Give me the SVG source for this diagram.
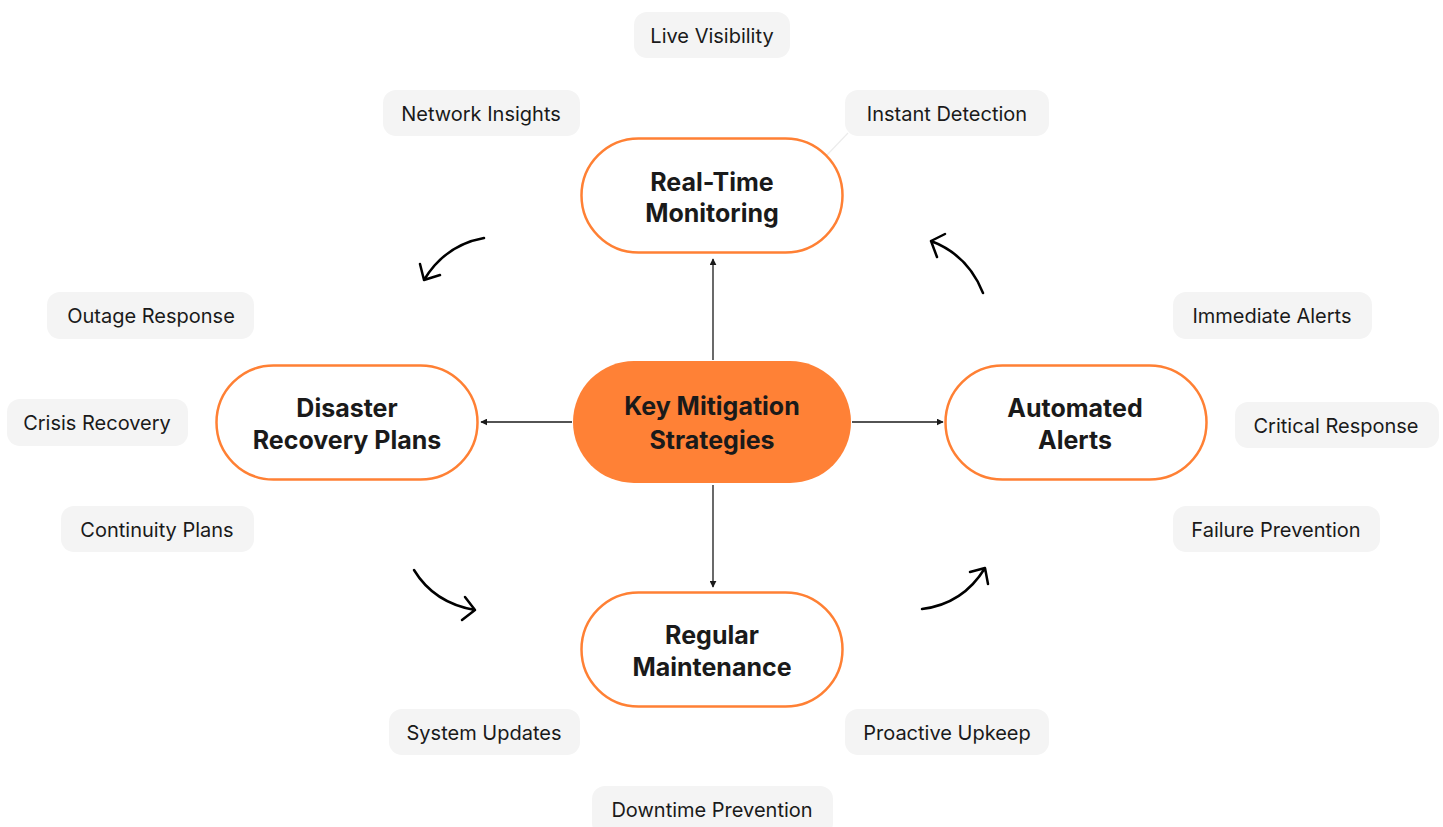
<svg xmlns="http://www.w3.org/2000/svg" width="1443" height="827" viewBox="0 0 1443 827">
<defs>
<marker id="ah" viewBox="0 0 10 10" refX="9" refY="5" markerWidth="7" markerHeight="7" orient="auto" markerUnits="userSpaceOnUse">
<path d="M0,0 L10,5 L0,10 z" fill="#1a1a1a"/>
</marker>
<style>
.tag rect{fill:#F4F4F4}
.tag text{font-family:Inter,"Noto Sans","Liberation Sans",sans-serif;font-size:20px;fill:#1a1a1a;text-anchor:middle;dominant-baseline:central}
.node rect{fill:#fff;stroke:#FF8034;stroke-width:2.5}
.node text,.center text{font-family:Inter,"Noto Sans","Liberation Sans",sans-serif;font-size:25px;font-weight:700;fill:#1a1a1a;text-anchor:middle;dominant-baseline:central}
.conn{stroke:#1a1a1a;stroke-width:1.3;fill:none}
.curve{stroke:#000;stroke-width:2.5;fill:none;stroke-linecap:round;stroke-linejoin:round}
</style>
</defs>
<rect width="1443" height="827" fill="#fff"/>
<line x1="848" y1="133" x2="827" y2="155" stroke="#ececec" stroke-width="1.2"/>
<g id="connectors">
<line class="conn" x1="713" y1="360" x2="713" y2="259" marker-end="url(#ah)"/>
<line class="conn" x1="572" y1="422" x2="481" y2="422" marker-end="url(#ah)"/>
<line class="conn" x1="852" y1="422" x2="943" y2="422" marker-end="url(#ah)"/>
<line class="conn" x1="713" y1="485" x2="713" y2="587" marker-end="url(#ah)"/>
<path class="curve" d="M484,238 Q445,245 424,280 M420,264 L424,280 L440,275"/>
<path class="curve" d="M983,293 Q968,255 931,241 M945,234 L931,241 L937,257"/>
<path class="curve" d="M414,570 Q434,603 475,610 M465,597 L475,610 L462,620"/>
<path class="curve" d="M922,609 Q963,604 985,568 M970,572 L985,568 L988,584"/>
</g>
<g id="center" class="center">
<rect x="573" y="361" width="278" height="122" rx="61" fill="#FF8136"/>
<text x="712" y="406">Key Mitigation</text>
<text x="712" y="440">Strategies</text>
</g>
<g id="realtime" class="node">
<rect x="581.5" y="138.5" width="261" height="114" rx="57"/>
<text x="712" y="182">Real-Time</text>
<text x="712" y="213">Monitoring</text>
</g>
<g id="disaster" class="node">
<rect x="216.5" y="365.5" width="261" height="114" rx="57"/>
<text x="347" y="408">Disaster</text>
<text x="347" y="440">Recovery Plans</text>
</g>
<g id="automated" class="node">
<rect x="945.5" y="365.5" width="261" height="114" rx="57"/>
<text x="1075" y="408">Automated</text>
<text x="1075" y="440">Alerts</text>
</g>
<g id="maintenance" class="node">
<rect x="581.5" y="592.5" width="261" height="114" rx="57"/>
<text x="712" y="635">Regular</text>
<text x="712" y="667">Maintenance</text>
</g>
<g id="tag-live" class="tag"><rect x="634" y="12" width="156" height="46" rx="13"/><text x="712" y="36">Live Visibility</text></g>
<g id="tag-network" class="tag"><rect x="383" y="90" width="197" height="46" rx="13"/><text x="481" y="114">Network Insights</text></g>
<g id="tag-instant" class="tag"><rect x="845" y="90" width="204" height="46" rx="13"/><text x="947" y="114">Instant Detection</text></g>
<g id="tag-outage" class="tag"><rect x="47" y="292" width="207" height="47" rx="13"/><text x="151" y="316">Outage Response</text></g>
<g id="tag-crisis" class="tag"><rect x="7" y="399" width="181" height="47" rx="13"/><text x="97" y="423">Crisis Recovery</text></g>
<g id="tag-continuity" class="tag"><rect x="61" y="506" width="193" height="46" rx="13"/><text x="157" y="530">Continuity Plans</text></g>
<g id="tag-immediate" class="tag"><rect x="1173" y="292" width="199" height="47" rx="13"/><text x="1272" y="316">Immediate Alerts</text></g>
<g id="tag-critical" class="tag"><rect x="1235" y="402" width="204" height="46" rx="13"/><text x="1336" y="426">Critical Response</text></g>
<g id="tag-failure" class="tag"><rect x="1173" y="506" width="207" height="46" rx="13"/><text x="1276" y="530">Failure Prevention</text></g>
<g id="tag-system" class="tag"><rect x="389" y="709" width="191" height="46" rx="13"/><text x="484" y="733">System Updates</text></g>
<g id="tag-proactive" class="tag"><rect x="845" y="709" width="204" height="46" rx="13"/><text x="947" y="733">Proactive Upkeep</text></g>
<g id="tag-downtime" class="tag"><rect x="592" y="786" width="241" height="50" rx="13"/><text x="712" y="810">Downtime Prevention</text></g>
</svg>
